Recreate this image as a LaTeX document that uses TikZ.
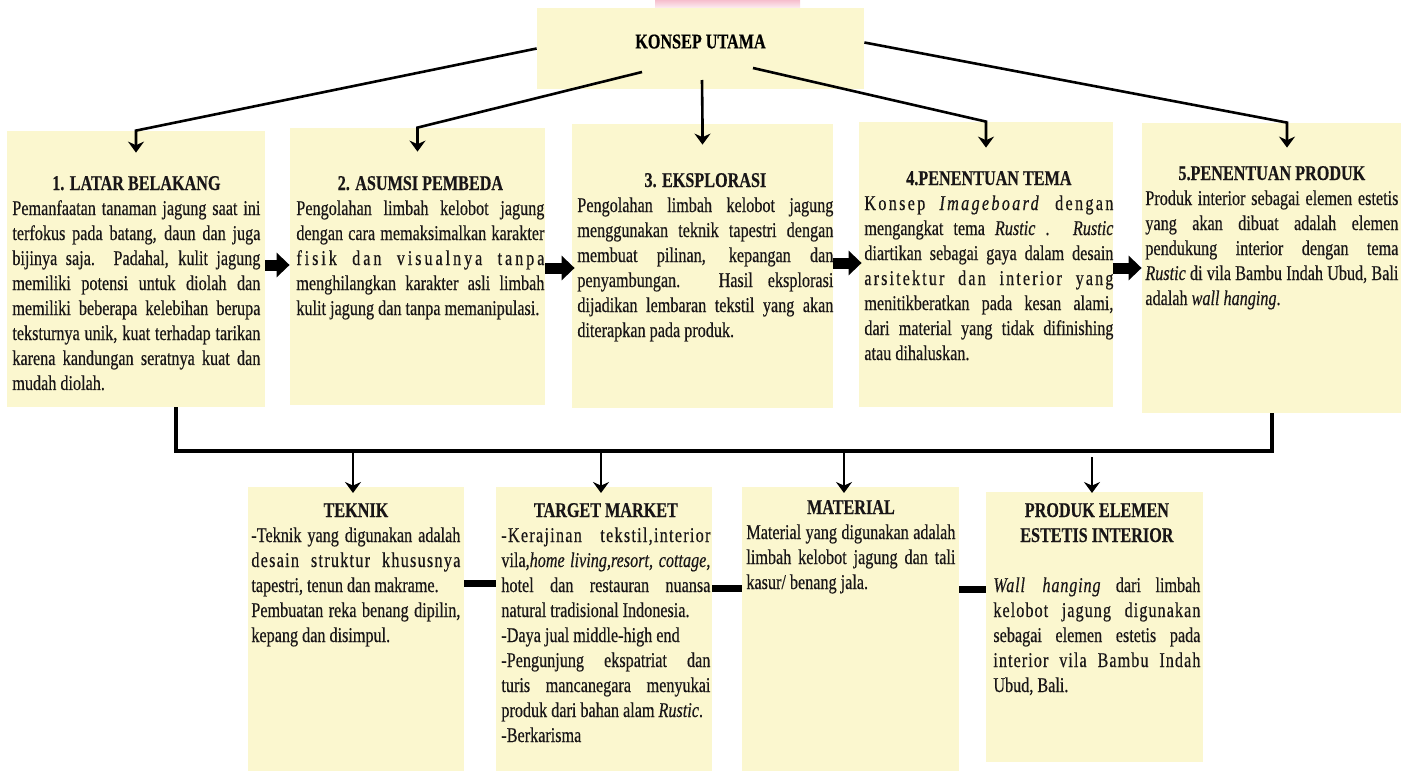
\documentclass[tikz,border=0pt]{standalone}
\usepackage{fontspec}
\setmainfont{Liberation Serif}[FakeStretch=0.77,FakeBold=0.4]
\usetikzlibrary{arrows.meta,positioning,fit}

\definecolor{boxyellow}{RGB}{251,247,207}
\definecolor{inkgray}{RGB}{25,22,23}
\definecolor{markpink}{RGB}{246,190,205}
\newcommand{\ttl}[1]{\centerline{\fontsize{10.5}{12.5}\selectfont\bfseries #1}\par}
\newcommand{\spc}[2]{{\addfontfeature{LetterSpace=#1}#2}}
\hyphenpenalty=10000

\begin{document}
\begin{tikzpicture}[x=0.5pt,y=-0.5pt,
    box/.style={fill=boxyellow,inner sep=0pt},
    txt/.style={anchor=base west,inner sep=0pt,align=justify,text=inkgray,
                font=\fontsize{10.5}{12.5}\selectfont},
    link/.style={line width=1.3pt,-{Stealth[length=5.5pt,width=8pt,inset=1.8pt]}},
    drop/.style={line width=1pt,-{Stealth[length=5.5pt,width=8pt,inset=1.8pt]}},
    bus/.style={line width=2pt},
    bar/.style={line width=3.5pt},
    blk/.style={line width=5.5pt,-{Triangle[length=6.5pt,width=12pt]}}]

  \useasboundingbox (0,0) rectangle (1415,771);

  % watermark remnant
  \shade[top color=markpink,bottom color=markpink!35] (655,0) rectangle (800,7);

  % main concept
  \node[box,fit={(537,8) (864,89)},font=\fontsize{10.5}{12}\selectfont\bfseries] (ku) {KONSEP UTAMA};

  % first row
  \node[box,fit={(7,131) (265,407)}] (lb) {};
  \node[box,fit={(290,128) (545,405)}] (ab) {};
  \node[box,fit={(572,124) (833,408)}] (ek) {};
  \node[box,fit={(859,122) (1113,407)}] (pt) {};
  \node[box,fit={(1142,123) (1401,413)}] (pp) {};

  \node[txt,text width=124pt] (lbt) at (12,190) {\ttl{1. LATAR BELAKANG}
    Pemanfaatan tanaman jagung saat ini\linebreak
    terfokus pada batang, daun dan juga\linebreak
    bijinya saja. Padahal, kulit jagung\linebreak
    memiliki potensi untuk diolah dan\linebreak
    memiliki beberapa kelebihan berupa\linebreak
    teksturnya unik, kuat terhadap tarikan\linebreak
    karena kandungan seratnya kuat dan\linebreak
    mudah diolah.};
  \node[txt,text width=124pt] (abt) at (296,190) {\ttl{2. ASUMSI PEMBEDA}
    Pengolahan limbah kelobot jagung\linebreak
    dengan cara memaksimalkan karakter\linebreak
    \spc{14}{fisik dan visualnya tanpa}\linebreak
    menghilangkan karakter asli limbah\linebreak
    kulit jagung dan tanpa memanipulasi.};
  \node[txt,text width=128pt] (ekt) at (577,187) {\ttl{3. EKSPLORASI}
    Pengolahan limbah kelobot jagung\linebreak
    menggunakan teknik tapestri dengan\linebreak
    membuat pilinan, kepangan dan\linebreak
    penyambungan. Hasil eksplorasi\linebreak
    dijadikan lembaran tekstil yang akan\linebreak
    diterapkan pada produk.};
  \node[txt,text width=124.5pt] (ptt) at (864,185) {\ttl{4.PENENTUAN TEMA}
    \spc{11}{Konsep \textit{Imageboard} dengan}\linebreak
    mengangkat tema \textit{Rustic} . \textit{Rustic}\linebreak
    diartikan sebagai gaya dalam desain\linebreak
    \spc{10}{arsitektur dan interior yang}\linebreak
    menitikberatkan pada kesan alami,\linebreak
    dari material yang tidak difinishing\linebreak
    atau dihaluskan.};
  \node[txt,text width=126.5pt] (ppt) at (1145,180) {\ttl{5.PENENTUAN PRODUK}
    Produk interior sebagai elemen estetis\linebreak
    yang akan dibuat adalah elemen\linebreak
    pendukung interior dengan tema\linebreak
    \textit{Rustic} di vila Bambu Indah Ubud, Bali\linebreak
    adalah \textit{wall hanging}.};

  % second row
  \node[box,fit={(248,487) (464,771)}] (tk) {};
  \node[box,fit={(496,487) (712,771)}] (tm) {};
  \node[box,fit={(742,487) (959,771)}] (mt) {};
  \node[box,fit={(986,492) (1203,762)}] (pe) {};

  \node[txt,text width=104.5pt] (tkt) at (251,517) {\ttl{TEKNIK}
    -Teknik yang digunakan adalah\linebreak
    \spc{6}{desain struktur khususnya}\linebreak
    tapestri, tenun dan makrame.\par
    Pembuatan reka benang dipilin,\linebreak
    kepang dan disimpul.};
  \node[txt,text width=104.5pt] (tmt) at (501,517) {\ttl{TARGET MARKET}
    \spc{6}{-Kerajinan tekstil,interior}\linebreak
    vila,\textit{home living,resort, cottage,}\linebreak
    hotel dan restauran nuansa\linebreak
    natural tradisional Indonesia.\par
    -Daya jual middle-high end\par
    -Pengunjung ekspatriat dan\linebreak
    turis mancanegara menyukai\linebreak
    produk dari bahan alam \textit{Rustic}.\par
    -Berkarisma};
  \node[txt,text width=104.5pt] (mtt) at (746,514) {\ttl{MATERIAL}
    Material yang digunakan adalah\linebreak
    limbah kelobot jagung dan tali\linebreak
    kasur/ benang jala.};
  \node[txt,text width=103.5pt] (pet) at (993,517) {\ttl{PRODUK ELEMEN}\ttl{ESTETIS INTERIOR}
    \vskip12.5pt
    \spc{4}{\textit{Wall hanging}} dari limbah\linebreak
    \spc{5}{kelobot jagung digunakan}\linebreak
    sebagai elemen estetis pada\linebreak
    \spc{5}{interior vila Bambu Indah}\linebreak
    Ubud, Bali.};

  % from the main concept
  \draw[link] (ku.west) -- (lb.north) -- ++(0,22);
  \draw[link] (642,72) -- (ab.north) -- ++(0,24);
  \draw[link] (702,80) -- (ek.north) -- ++(0,21);
  \draw[link] (753,68) -- (pt.north) -- ++(0,26);
  \draw[link] ([yshift=3pt]ku.east) -- ([xshift=7.75pt]pp.north) -- ++(0,25);

  % steps
  \draw[blk] (lb.east |- 0,265) -- (ab.west |- 0,265);
  \draw[blk] (ab.east |- 0,268) -- ([xshift=1.5pt]ek.west |- 0,268);
  \draw[blk] (ek.east |- 0,263) -- ([xshift=1.5pt]pt.west |- 0,263);
  \draw[blk] (pt.east |- 0,268) -- (pp.west |- 0,268);

  % collecting line
  \coordinate (busl) at (176,451);
  \coordinate (busr) at (1272,451);
  \draw[bus] (lb.south -| busl) -- (busl) -- (busr) -- (pp.south -| busr);
  \draw[drop] (353,451) -- ++(0,42);
  \draw[drop] (601,451) -- ++(0,42);
  \draw[drop] (844,451) -- ++(0,42);
  \draw[drop] (1092,457) -- ++(0,36);

  % links in the second row
  \draw[bar] (tk.east |- 0,583) -- (tm.west |- 0,583);
  \draw[bar] (tm.east |- 0,588) -- (mt.west |- 0,588);
  \draw[bar] (mt.east |- 0,589) -- (pe.west |- 0,589);
\end{tikzpicture}
\end{document}
